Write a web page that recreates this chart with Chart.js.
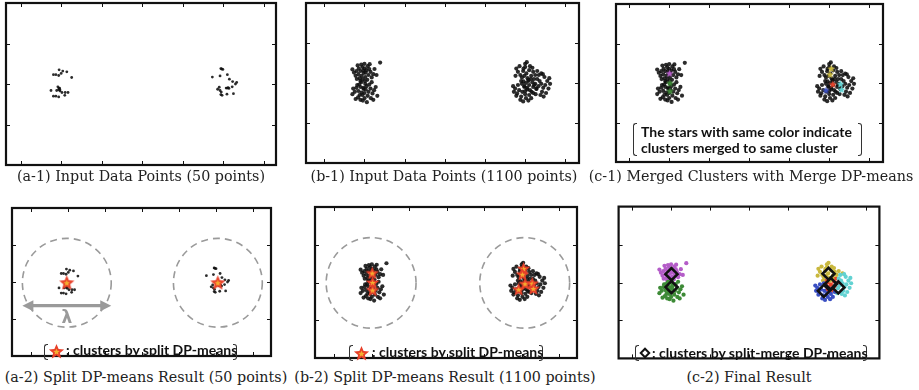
<!DOCTYPE html>
<html>
<head>
<meta charset="utf-8">
<script src="https://cdn.jsdelivr.net/npm/chart.js@4.4.1/dist/chart.umd.min.js"></script>
<style>
  body { margin:0; background:#fff; width:919px; height:390px; position:relative; overflow:hidden; }
  canvas.panel, canvas.mark { position:absolute; }
  .cap { position:absolute; width:400px; font-family:"DejaVu Serif", serif; font-size:14.3px; color:#222; text-align:center; white-space:nowrap; line-height:16px; }
  .note { position:absolute; font-family:Lato, "Open Sans", sans-serif; font-weight:bold; font-size:14px; color:#111; white-space:nowrap; line-height:16px; }
  .br { position:absolute; border:1.6px solid #333; width:4px; box-sizing:border-box; }
  .br.l { border-right:none; border-radius:3px 0 0 3px; }
  .br.r { border-left:none; border-radius:0 3px 3px 0; }
  .dia { position:absolute; width:8px; height:8px; border:2px solid #111; box-sizing:border-box; transform:rotate(45deg); }
</style>
</head>
<body>
<script>
// axis ticks (no labels in the original)
const xTicks = [0, 1, 2, 3, 4, 5, 6];
const yTicks = [1, 2, 3];

// 50-point input set
const input50 = [
  [0.95,2.35],[1.04,2.32],[1.14,2.30],[0.81,2.23],[0.87,2.23],[0.94,2.21],[1.00,2.26],[1.26,2.16],
  [0.95,1.89],[0.94,1.86],[0.97,1.86],[0.75,1.84],[0.89,1.84],[0.97,1.83],[1.02,1.79],[1.10,1.79],
  [1.17,1.79],[0.81,1.70],[0.87,1.70],[0.94,1.68],[1.09,1.72],[0.92,1.93],[0.96,1.90],
  [4.94,2.38],[4.99,2.36],[5.10,2.23],[4.92,2.20],[4.73,2.17],[5.15,2.12],[5.23,2.06],[5.33,2.04],
  [5.30,2.00],[5.22,1.93],[5.07,1.90],[5.10,1.90],[5.14,1.89],[4.90,1.92],[4.86,1.87],[4.92,1.84],
  [4.95,1.80],[4.94,1.74],[4.97,1.72],[5.09,1.75],[5.25,1.76],[5.12,1.91],[4.96,2.37]
];

// 1100-point input set, grouped by final cluster
const purplePts = [
  [0.98,2.25],[0.90,2.30],[1.05,2.32],[0.85,2.22],[1.10,2.20],[0.95,2.40],[1.02,2.15],[0.88,2.12],
  [1.15,2.28],[0.80,2.30],[0.93,2.18],[1.00,2.36],[1.08,2.42],[0.78,2.18],[1.18,2.14],[0.92,2.46],
  [1.03,2.26],[0.86,2.36],[1.12,2.35],[0.96,2.10],[1.22,2.22],[0.74,2.26],[1.00,2.48],[0.83,2.44],
  [1.07,2.08],[0.70,2.34],[1.25,2.35],[1.30,2.20],[0.90,2.05],[1.39,2.51],[0.97,2.31],[1.13,2.47],[0.81,2.10]
];
const greenPts = [
  [0.98,1.85],[0.90,1.90],[1.05,1.92],[0.85,1.80],[1.10,1.78],[0.95,1.70],[1.02,1.98],[0.88,1.70],
  [1.15,1.86],[0.80,1.88],[0.93,1.76],[1.00,1.62],[1.08,1.68],[0.76,1.78],[1.20,1.74],[0.92,2.02],
  [1.03,1.84],[0.84,1.64],[1.12,1.96],[0.96,1.56],[1.24,1.82],[0.72,1.86],[1.00,1.75],[0.87,1.96],
  [1.16,1.62],[0.70,1.72],[1.28,1.90],[1.32,1.68],[0.90,1.58],[1.06,1.52],[0.97,1.88],[1.18,2.02],
  [0.82,1.95],[1.22,1.58],[0.78,1.60],[1.01,2.05]
];
const yellowPts = [
  [5.03,2.24],[4.95,2.30],[5.10,2.32],[4.88,2.20],[5.15,2.18],[5.00,2.40],[5.06,2.12],[4.82,2.28],
  [5.20,2.28],[4.92,2.14],[5.00,2.48],[5.12,2.42],[4.78,2.36],[5.25,2.20],[4.96,2.36],[5.08,2.05],
  [4.86,2.42],[5.18,2.38],[5.30,2.30],[4.76,2.18],[5.40,2.24],[4.90,2.05],[5.04,2.52],[5.14,2.10],[4.98,2.18]
];
const redPts = [
  [5.10,1.95],[5.02,2.00],[5.18,2.02],[5.05,1.88],[5.20,1.90],[4.98,1.92],[5.12,1.82],
  [5.25,1.98],[5.08,2.08],[5.00,1.80],[5.16,1.78],[5.28,1.86],[4.96,2.04],[5.22,2.10]
];
const cyanPts = [
  [5.33,1.92],[5.40,1.98],[5.28,1.85],[5.45,1.88],[5.36,2.05],[5.50,1.95],[5.30,2.10],[5.42,1.78],
  [5.55,2.05],[5.26,1.72],[5.48,2.15],[5.58,1.86],[5.38,1.70],[5.52,1.75],[5.62,1.98],[5.34,2.20],
  [5.44,2.22],[5.22,1.95],[5.60,2.12],[5.46,1.66]
];
const bluePts = [
  [4.93,1.78],[4.85,1.82],[5.00,1.72],[4.80,1.74],[5.05,1.84],[4.90,1.66],[4.98,1.90],[4.75,1.86],
  [5.10,1.70],[4.88,1.58],[5.02,1.62],[4.72,1.78],[5.15,1.62],[4.95,1.54],[4.82,1.95],[5.08,1.56],
  [4.78,1.68],[5.20,1.75],[4.92,1.98],[4.70,1.92]
];

// split DP-means centres and the cluster each one is merged into
const split50 = [[0.96,1.98],[5.04,1.98]];
const split1100 = [[1.01,2.25],[1.02,2.00],[1.02,1.80],[5.05,2.37],[5.02,2.22],[5.09,1.97],[5.28,1.98],[5.31,1.84],[4.92,1.82]];
const mergedInto = ['purple','green','green','yellow','yellow','red','cyan','cyan','blue'];
// final split-merge centres
const finalCenters = [[1.01,2.22],[1.01,1.88],[5.04,2.23],[5.10,1.96],[5.29,1.87],[4.92,1.78]];
const lambda = 2.4;

const colors = { purple:'#b45cc8', green:'#3d8a36', yellow:'#c9b83e', red:'#e8432a', cyan:'#62d2d2', blue:'#3a4fc2' };
const clusters = { purple:purplePts, green:greenPts, yellow:yellowPts, red:redPts, cyan:cyanPts, blue:bluePts };

const toXY = arr => arr.map(([x, y]) => ({ x, y }));
const allPts = [].concat(purplePts, greenPts, yellowPts, redPts, cyanPts, bluePts);

function starImage(size, fill, inner) {
  const c = document.createElement('canvas');
  c.width = c.height = size;
  const g = c.getContext('2d');
  const path = r => {
    g.beginPath();
    for (let i = 0; i < 10; i++) {
      const a = -Math.PI / 2 + i * Math.PI / 5, rr = i % 2 ? r * 0.45 : r;
      g.lineTo(size / 2 + rr * Math.cos(a), size / 2 + 0.5 + rr * Math.sin(a));
    }
    g.closePath();
  };
  path(size / 2 - 0.5); g.fillStyle = fill; g.fill();
  if (inner) { path(size * 0.2); g.fillStyle = inner; g.fill(); }
  return c;
}
const bigStar = starImage(17, '#e8402a', '#f4b030');
const midStar = starImage(15, '#e8402a', '#f4b030');
const smallStars = {};
Object.keys(colors).forEach(k => smallStars[k] = starImage(9, colors[k]));

const framePlugin = {
  id: 'frame',
  afterDatasetsDraw(chart) {
    const { ctx, chartArea: a, scales: { x, y } } = chart;
    ctx.save();
    ctx.strokeStyle = '#111';
    ctx.lineWidth = 1;
    ctx.beginPath();
    xTicks.forEach(v => {
      const p = Math.round(x.getPixelForValue(v)) + 0.5;
      ctx.moveTo(p, a.top); ctx.lineTo(p, a.top + 4);
      ctx.moveTo(p, a.bottom); ctx.lineTo(p, a.bottom - 4);
    });
    yTicks.forEach(v => {
      const p = Math.round(y.getPixelForValue(v)) + 0.5;
      ctx.moveTo(a.left, p); ctx.lineTo(a.left + 4, p);
      ctx.moveTo(a.right, p); ctx.lineTo(a.right - 4, p);
    });
    ctx.stroke();
    ctx.lineWidth = 2.2;
    ctx.strokeRect(a.left, a.top, a.right - a.left, a.bottom - a.top);
    ctx.restore();
  }
};

const ringPlugin = {
  id: 'rings',
  beforeDatasetsDraw(chart, args, opts) {
    if (!opts.centers) return;
    const { ctx, scales: { x, y } } = chart;
    ctx.save();
    ctx.strokeStyle = '#9a9a9a';
    ctx.lineWidth = 1.6;
    ctx.setLineDash([7, 5]);
    opts.centers.forEach(([cx, cy]) => {
      const px = x.getPixelForValue(cx), py = y.getPixelForValue(cy);
      const rx = x.getPixelForValue(cx + opts.r) - px, ry = py - y.getPixelForValue(cy + opts.r);
      ctx.beginPath(); ctx.ellipse(px, py, rx, ry, 0, 0, Math.PI * 2); ctx.stroke();
    });
    ctx.setLineDash([]);
    if (opts.arrow) {
      const [cx, ay] = opts.arrow;
      const x1 = x.getPixelForValue(cx - opts.r), x2 = x.getPixelForValue(cx + opts.r), py = y.getPixelForValue(ay);
      ctx.fillStyle = '#9a9a9a';
      ctx.lineWidth = 3.2;
      ctx.beginPath(); ctx.moveTo(x1 + 8, py); ctx.lineTo(x2 - 8, py); ctx.stroke();
      ctx.beginPath(); ctx.moveTo(x1, py); ctx.lineTo(x1 + 11, py - 5.5); ctx.lineTo(x1 + 11, py + 5.5); ctx.closePath(); ctx.fill();
      ctx.beginPath(); ctx.moveTo(x2, py); ctx.lineTo(x2 - 11, py - 5.5); ctx.lineTo(x2 - 11, py + 5.5); ctx.closePath(); ctx.fill();
      ctx.font = 'bold 17px "DejaVu Sans", sans-serif';
      ctx.textAlign = 'center';
      ctx.textBaseline = 'middle';
      ctx.fillText('λ', x.getPixelForValue(cx), py + 13);
    }
    ctx.restore();
  }
};

// Chart.js paints the first dataset on top, so marker sets go first
const dark = (data, r) => ({ data: toXY(data), pointRadius: r, pointBackgroundColor: 'rgba(15,15,15,0.88)', pointBorderWidth: 0 });

const panels = [
  { box: [6, 3, 276, 165], xr: [-0.36, 6.3], sets: [dark(input50, 1.4)] },
  { box: [306, 3, 579, 163], xr: [-0.455, 6.34], sets: [dark(allPts, 2.1)] },
  { box: [615, 3, 884, 163], xr: [-0.33, 6.345], sets: [
      { data: toXY(split1100), pointStyle: c => smallStars[mergedInto[c.dataIndex]], pointRadius: 4 },
      dark(allPts, 2.1)
    ] },
  { box: [7, 203, 276, 361], xr: [-0.52, 6.475], rings: { centers: split50, r: lambda / 2, arrow: [split50[0][0], 1.36] }, sets: [
      { data: toXY(split50), pointStyle: bigStar, pointRadius: 8 },
      dark(input50, 1.4)
    ] },
  { box: [311, 203, 581, 362], xr: [-0.518, 6.477], rings: { centers: [[0.98, 1.99], [5.08, 1.99]], r: lambda / 2 }, sets: [
      { data: toXY(split1100), pointStyle: midStar, pointRadius: 7 },
      dark(allPts, 2.1)
    ] },
  { box: [614, 202, 884, 363], xr: [-0.347, 6.345], sets: [
      { data: toXY(finalCenters), pointStyle: 'rectRot', pointRadius: 6, pointBorderWidth: 2.6, pointBorderColor: '#111', pointBackgroundColor: 'rgba(0,0,0,0)' },
      ...['green', 'purple', 'blue', 'cyan', 'yellow', 'red'].map(k => ({ data: toXY(clusters[k]), pointRadius: 2.1, pointBackgroundColor: colors[k], pointBorderWidth: 0 }))
    ] }
];

const pad = 4;
panels.forEach(p => {
  const [l, t, r, b] = p.box;
  const cv = document.createElement('canvas');
  cv.className = 'panel';
  cv.width = r - l + pad * 2;
  cv.height = b - t + pad * 2;
  cv.style.left = (l - pad) + 'px';
  cv.style.top = (t - pad) + 'px';
  document.body.appendChild(cv);
  new Chart(cv, {
    type: 'scatter',
    data: { datasets: p.sets.map(s => Object.assign({ showLine: false, clip: false }, s)) },
    options: {
      responsive: false,
      animation: false,
      layout: { padding: pad },
      scales: {
        x: { type: 'linear', display: false, min: p.xr[0], max: p.xr[1] },
        y: { type: 'linear', display: false, min: 0, max: 4 }
      },
      plugins: { legend: { display: false }, tooltip: { enabled: false }, rings: p.rings || {} }
    },
    plugins: [ringPlugin, framePlugin]
  });
});

// captions: text, centre x, top
const captions = [
  ['(a-1) Input Data Points (50 points)', 141, 168],
  ['(b-1) Input Data Points (1100 points)', 444, 168],
  ['(c-1) Merged Clusters with Merge DP-means', 751, 168],
  ['(a-2) Split DP-means Result (50 points)', 146, 369],
  ['(b-2) Split DP-means Result (1100 points)', 445, 369],
  ['(c-2) Final Result', 749, 369]
];
captions.forEach(([txt, cx, t]) => {
  document.body.insertAdjacentHTML('beforeend', `<div class="cap" style="left:${cx - 200}px; top:${t}px;">${txt}</div>`);
});

// bracketed notes
function bracket(l, r, t, h) {
  document.body.insertAdjacentHTML('beforeend', `
    <div class="br l" style="left:${l}px; top:${t}px; height:${h}px;"></div>
    <div class="br r" style="left:${r - 4}px; top:${t}px; height:${h}px;"></div>`);
}
function note(txt, l, t) {
  document.body.insertAdjacentHTML('beforeend', `<div class="note" style="left:${l}px; top:${t}px;">${txt}</div>`);
}
function legendStar(img, cx, cy) {
  const c = starImage(img.width, '#e8402a', '#f4b030');
  c.className = 'mark';
  c.style.left = (cx - img.width / 2) + 'px';
  c.style.top = (cy - img.height / 2) + 'px';
  document.body.appendChild(c);
}

bracket(633, 862, 123, 33);
note('The stars with same color indicate', 641, 124);
note('clusters merged to same cluster', 641, 140);

bracket(44, 237, 344, 16);
legendStar(bigStar, 56.5, 351.5);
note(': clusters by split DP-means', 66, 342);

bracket(349, 543, 345, 16);
legendStar(bigStar, 361, 353);
note(': clusters by split DP-means', 372, 344);

bracket(635, 867, 345, 16);
document.body.insertAdjacentHTML('beforeend', `<div class="dia" style="left:641px; top:349px;"></div>`);
note(': clusters by split-merge DP-means', 652, 345);
</script>
</body>
</html>
